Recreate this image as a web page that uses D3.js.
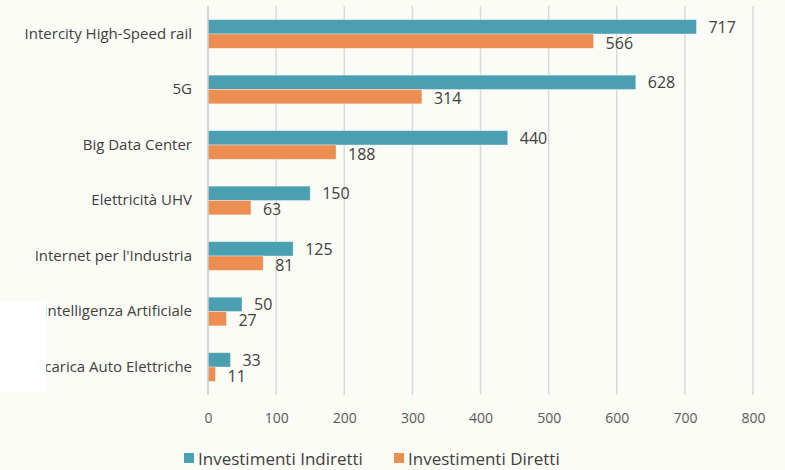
<!DOCTYPE html>
<html><head><meta charset="utf-8">
<script src="https://cdn.jsdelivr.net/npm/d3@7"></script>
<style>html,body{margin:0;padding:0;background:#fcfcf7;}svg{display:block;}</style>
</head><body>
<svg id="chart" width="785" height="470"></svg>
<script>
const categories = ["Intercity High-Speed rail","5G","Big Data Center","Elettricità UHV","Internet per l'Industria","Intelligenza Artificiale","Ricarica Auto Elettriche"];
const seriesNames = ["Investimenti Indiretti","Investimenti Diretti"];
const indiretti = [717,628,440,150,125,50,33];
const diretti = [566,314,188,63,81,27,11];
const tickValues = [0,100,200,300,400,500,600,700,800];
const colors = ["#4aa0b1","#ec8d52"];

const svg = d3.select("#chart");
svg.append("rect").attr("width",785).attr("height",470).attr("fill","#fcfcf7");

const x = d3.scaleLinear().domain([0,800]).range([208,753]);
const y = d3.scaleBand().domain(categories).range([6,395]).paddingInner(0.483).paddingOuter(0.2456);
const ys = d3.scaleBand().domain(seriesNames).range([0,y.bandwidth()]);
const font = "'Open Sans', sans-serif";
const textCol = "#404040";

// gridlines
svg.append("g").selectAll("line").data(tickValues.slice(1)).join("line")
  .attr("x1",d=>x(d)).attr("x2",d=>x(d)).attr("y1",6).attr("y2",395)
  .attr("stroke","#d9d9d9").attr("stroke-width",1.5);

// x axis tick labels
const xAxis = d3.axisBottom(x).tickValues(tickValues).tickSize(0).tickPadding(0);
const gx = svg.append("g").attr("transform","translate(0,417)").call(xAxis);
gx.select(".domain").remove();
gx.selectAll("text").attr("y",0).attr("dy",null).attr("dominant-baseline","central")
  .attr("font-family",font).attr("font-size",14).attr("fill","#595959");

const data = categories.map((c,i)=>({cat:c, vals:[indiretti[i], diretti[i]]}));

const groups = svg.append("g").selectAll("g").data(data).join("g")
  .attr("transform",d=>`translate(0,${y(d.cat)})`);
groups.selectAll("rect").data(d=>d.vals.map((v,k)=>({k,v}))).join("rect")
  .attr("x",x(0)).attr("y",d=>ys(seriesNames[d.k]))
  .attr("width",d=>x(d.v)-x(0)).attr("height",ys.bandwidth())
  .attr("fill",d=>colors[d.k]).attr("stroke","#ffffff").attr("stroke-opacity",0.45).attr("stroke-width",0.8);
groups.selectAll("text").data(d=>d.vals.map((v,k)=>({k,v}))).join("text")
  .attr("x",d=>x(d.v)+12).attr("y",d=>ys(seriesNames[d.k])+ys.bandwidth()/2+(d.k?1.5:0))
  .attr("dominant-baseline","central")
  .attr("font-family",font).attr("font-size",16).attr("fill",textCol)
  .text(d=>d.v);

// left axis line
svg.append("line").attr("x1",x(0)).attr("x2",x(0)).attr("y1",6).attr("y2",395)
  .attr("stroke","#c8c8c8").attr("stroke-width",1.5);

// category labels
const yAxis = d3.axisLeft(y).tickSize(0).tickPadding(16);
const gy = svg.append("g").attr("transform",`translate(${x(0)},0)`).call(yAxis);
gy.select(".domain").remove();
gy.selectAll("text").attr("font-family",font).attr("font-size",15).attr("fill",textCol);

// white patch covering left part (as in reference)
svg.append("rect").attr("x",0).attr("y",302).attr("width",46).attr("height",90).attr("fill","#ffffff");

// legend
const legend = svg.append("g").attr("transform","translate(0,458)");
const lx = [184,394];
seriesNames.forEach((s,i)=>{
  legend.append("rect").attr("x",lx[i]).attr("y",-5).attr("width",10).attr("height",10).attr("fill",colors[i]);
  legend.append("text").attr("x",lx[i]+14).attr("y",0).attr("dominant-baseline","central")
    .attr("font-family",font).attr("font-size",17).attr("fill",textCol).text(s);
});
</script>
</body></html>
